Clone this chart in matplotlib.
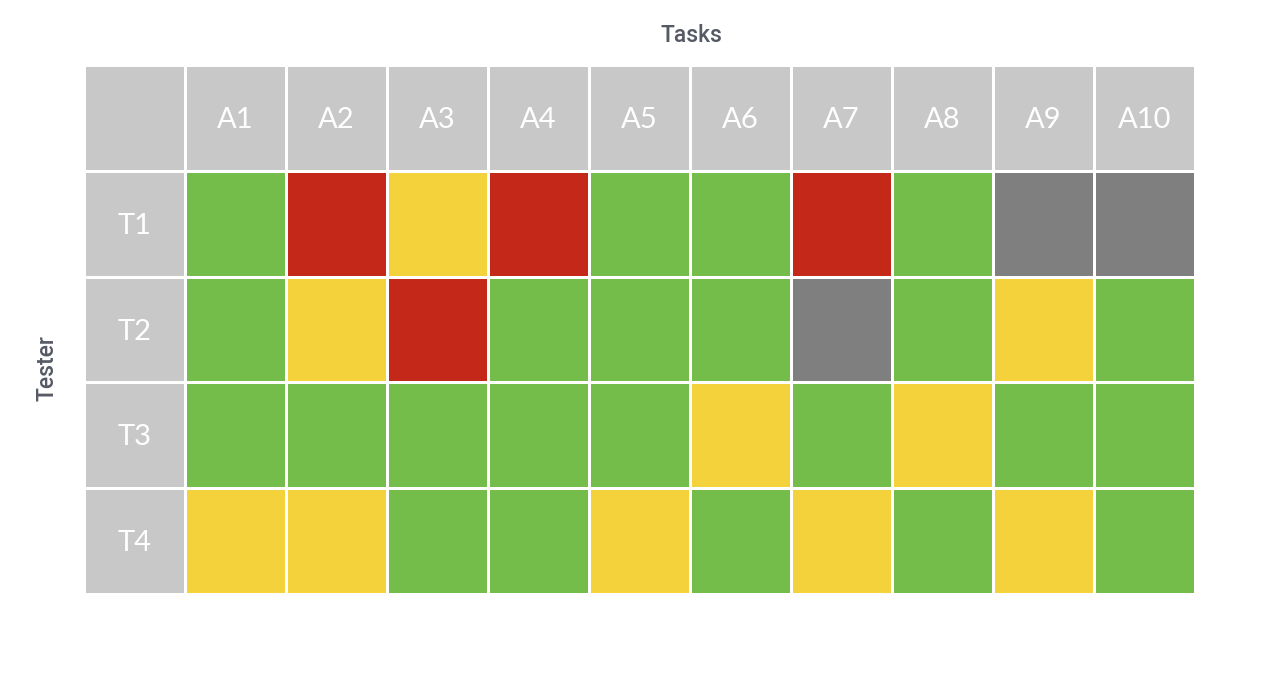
import numpy as np
import matplotlib.pyplot as plt
from matplotlib.colors import ListedColormap

tasks = ["A1", "A2", "A3", "A4", "A5", "A6", "A7", "A8", "A9", "A10"]
testers = ["T1", "T2", "T3", "T4"]

# 0 = pass, 1 = fail, 2 = partial, 3 = not done
status = [
    [0, 1, 2, 1, 0, 0, 1, 0, 3, 3],
    [0, 2, 1, 0, 0, 0, 3, 0, 2, 0],
    [0, 0, 0, 0, 0, 2, 0, 2, 0, 0],
    [2, 2, 0, 0, 2, 0, 2, 0, 2, 0],
]

status_colors = ["#74BD4A", "#C42818", "#F3D23C", "#7F7F7F", "#C8C8C8"]
HEADER = 4

fig = plt.figure(figsize=(12.72, 6.92), dpi=100)
# axes padded by 1px so the white cell borders on the outside fall off
ax = fig.add_axes([84 / 1272, (692 - 594) / 692, 1111 / 1272, 529 / 692])

# header row and header column share the light gray
grid = np.full((len(testers) + 1, len(tasks) + 1), HEADER)
grid[1:, 1:] = np.array(status)

cmap = ListedColormap(status_colors)
ax.pcolormesh(grid, cmap=cmap, vmin=-0.5, vmax=4.5,
              edgecolors="white", linewidth=2)
ax.set_xlim(0, len(tasks) + 1)
ax.set_ylim(len(testers) + 1, 0)

label_font = dict(color="white", fontsize=21, family="Lato",
                  ha="center", va="center")
for j, t in enumerate(tasks):
    ax.text(j + 1.5, 0.52, t, **label_font)
for i, t in enumerate(testers):
    ax.text(0.5, i + 1.52, t, **label_font)

ax.set_xticks([])
ax.set_yticks([])
for s in ax.spines.values():
    s.set_visible(False)

title_font = dict(ha="center", va="center", fontsize=16.5, color="#555A64",
                  family="Roboto", weight="medium")
fig.text(691 / 1272, 1 - 35 / 692, "Tasks", **title_font)
fig.text(47 / 1272, 1 - 368 / 692, "Tester", rotation=90, **title_font)

fig.savefig("out.png", dpi=100)
